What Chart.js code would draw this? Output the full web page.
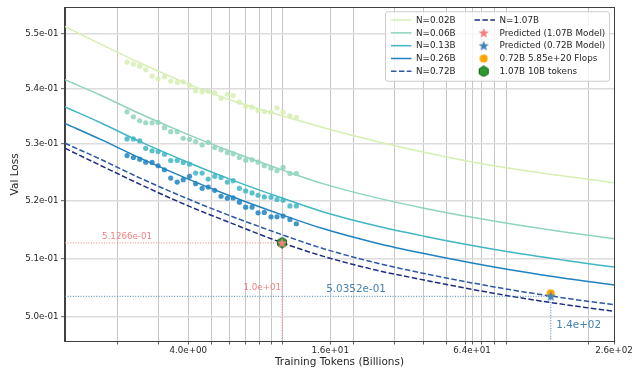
<!DOCTYPE html>
<html><head><meta charset="utf-8">
<script src="https://cdn.jsdelivr.net/npm/chart.js@4.4.1/dist/chart.umd.min.js"></script>
<style>html,body{margin:0;padding:0;background:#fff;}canvas{display:block;}</style>
</head><body>
<canvas id="c" width="642" height="371"></canvas>
<script>
// ---------- data ----------
const seriesNames = ['N=0.02B','N=0.06B','N=0.13B','N=0.26B','N=0.72B','N=1.07B'];
const markerNames = ['Predicted (1.07B Model)','Predicted (0.72B Model)','0.72B 5.85e+20 Flops','1.07B 10B tokens'];

const curveTokens = [1.2, 1.7, 2.5, 4, 6, 10, 15, 25, 40, 64, 100, 160, 256];
const fit002 = [0.55142, 0.54813, 0.54466, 0.54081, 0.53796, 0.53507, 0.53293, 0.53051, 0.52854, 0.52683, 0.52549, 0.52427, 0.52316];
const fit006 = [0.54161, 0.53879, 0.53543, 0.53168, 0.52876, 0.52541, 0.52295, 0.52053, 0.51869, 0.51709, 0.51575, 0.51450, 0.51339];
const fit013 = [0.53668, 0.53382, 0.53044, 0.52673, 0.52379, 0.52046, 0.51803, 0.51562, 0.51382, 0.51222, 0.51087, 0.50964, 0.50850];
const fit026 = [0.53370, 0.53083, 0.52749, 0.52378, 0.52086, 0.51752, 0.51509, 0.51265, 0.51082, 0.50920, 0.50782, 0.50656, 0.50546];
const fit072 = [0.53014, 0.52729, 0.52397, 0.52028, 0.51739, 0.51407, 0.51166, 0.50923, 0.50741, 0.50580, 0.50443, 0.50319, 0.50209];
const fit107 = [0.52925, 0.52620, 0.52287, 0.51908, 0.51618, 0.51268, 0.51034, 0.50799, 0.50629, 0.50470, 0.50334, 0.50209, 0.50099];

const obsTokens = [2.2, 2.34, 2.49, 2.64, 2.81, 2.98, 3.17, 3.37, 3.59, 3.81, 4.05, 4.3, 4.58, 4.86, 5.18, 5.51, 5.86, 6.2, 6.59, 7.01, 7.46, 7.91, 8.41, 8.98, 9.52, 10.1, 10.8, 11.5];
const obs002 = [0.54482, 0.54446, 0.54409, 0.54342, 0.54228, 0.54179, 0.54215, 0.54137, 0.54114, 0.54122, 0.54059, 0.53962, 0.53938, 0.53951, 0.53920, 0.53825, 0.53897, 0.53872, 0.53753, 0.53674, 0.53663, 0.53602, 0.53584, 0.53573, 0.53651, 0.53573, 0.53507, 0.53477];
const obs006 = [0.53579, 0.53489, 0.53418, 0.53382, 0.53382, 0.53388, 0.53293, 0.53222, 0.53222, 0.53103, 0.53085, 0.53044, 0.52985, 0.53032, 0.52938, 0.52897, 0.52849, 0.52826, 0.52761, 0.52713, 0.52720, 0.52678, 0.52615, 0.52572, 0.52527, 0.52585, 0.52479, 0.52479];
const obs013 = [0.53092, 0.53092, 0.53056, 0.52925, 0.52879, 0.52867, 0.52819, 0.52708, 0.52708, 0.52673, 0.52643, 0.52485, 0.52485, 0.52379, 0.52427, 0.52409, 0.52327, 0.52351, 0.52217, 0.52170, 0.52135, 0.52095, 0.52065, 0.52060, 0.52020, 0.52008, 0.51908, 0.51908];
const obs026 = [0.52796, 0.52761, 0.52731, 0.52678, 0.52673, 0.52615, 0.52544, 0.52397, 0.52327, 0.52369, 0.52427, 0.52299, 0.52217, 0.52239, 0.52182, 0.52077, 0.52042, 0.52048, 0.51973, 0.51886, 0.51886, 0.51787, 0.51794, 0.51718, 0.51718, 0.51730, 0.51673, 0.51597];

const predX107 = 10,  predY107 = 0.51266;   // predicted 1.07B
const predX072 = 138, predY072 = 0.50352;   // predicted 0.72B
const flopsPoint = [138, 0.50403];          // 0.72B 5.85e+20 Flops
const tokensPoint = [10, 0.51270];          // 1.07B 10B tokens

const xRange = [1.2, 256];
const yRange = [0.496, 0.5549];
const xTickValues = [2,3,4,5,6,7,8,9,10,16,20,30,40,50,60,64,70,80,90,200,256];
const xMajorTicks = [4,16,64,256];
const yTickValues = [0.50,0.51,0.52,0.53,0.54,0.55];

// ---------- style ----------
const FONT = '"DejaVu Sans", sans-serif';
const colors = ['#d6efb2','#8fd4bc','#41b6c4','#1f82bf','#2c57a3','#1c2c80'];
const dashed = [false,false,false,false,true,true];
const redC = '#f08080', blueC = '#4682b4', orangeC = '#ffa500';
const TEXT = '#262626';

function fmtExp(v, d){
  const s = v.toExponential(d).split('e');
  const e = parseInt(s[1],10);
  return s[0] + 'e' + (e<0?'-':'+') + String(Math.abs(e)).padStart(2,'0');
}
function withAlpha(hex,a){
  const n=parseInt(hex.slice(1),16);
  return `rgba(${n>>16&255},${n>>8&255},${n&255},${a})`;
}
function makeStar(color, size){
  const c=document.createElement('canvas'); c.width=c.height=size;
  const g=c.getContext('2d'); const cx=size/2, cy=size/2+0.4, R=size/2-0.5, r=R*0.42;
  g.beginPath();
  for(let i=0;i<10;i++){const a=-Math.PI/2+i*Math.PI/5;const rr=i%2?r:R;g.lineTo(cx+rr*Math.cos(a),cy+rr*Math.sin(a));}
  g.closePath(); g.fillStyle=color; g.fill();
  return c;
}
function makeHex(color, edge, size){
  const c=document.createElement('canvas'); c.width=c.height=size;
  const g=c.getContext('2d'); const cx=size/2, cy=size/2, R=size/2-0.8;
  g.beginPath();
  for(let i=0;i<6;i++){const a=-Math.PI/2+i*Math.PI/3;g.lineTo(cx+R*Math.cos(a),cy+R*Math.sin(a));}
  g.closePath(); g.fillStyle=color; g.fill(); g.strokeStyle=edge; g.lineWidth=1; g.stroke();
  return c;
}
function makeCircle(color, size){
  const c=document.createElement('canvas'); c.width=c.height=size;
  const g=c.getContext('2d'); g.beginPath(); g.arc(size/2,size/2,size/2-0.5,0,Math.PI*2);
  g.fillStyle=color; g.fill(); return c;
}
const starRed = makeStar(redC, 12);
const starBlue = makeStar(blueC, 12);
const hexGreen = makeHex('#2e9a2e', '#0b5d0b', 12);
const dotOrange = makeCircle(orangeC, 9);

// ---------- datasets ----------
const fitSeries = [fit002, fit006, fit013, fit026, fit072, fit107];
const obsSeries = [obs002, obs006, obs013, obs026];
const datasets = [];
fitSeries.forEach((arr,i)=>{
  datasets.push({label:seriesNames[i], data:curveTokens.map((x,j)=>({x, y:arr[j]})),
    showLine:true, borderColor:colors[i], borderWidth:1.5, borderDash:dashed[i]?[5.5,2.4]:[],
    pointRadius:0, cubicInterpolationMode:'monotone', fill:false, order:10});
});
obsSeries.forEach((arr,i)=>{
  datasets.push({label:'obs '+seriesNames[i], data:obsTokens.map((x,j)=>({x, y:arr[j]})),
    showLine:false, pointRadius:2.6, pointBackgroundColor:withAlpha(colors[i],0.85), pointBorderWidth:0, order:8});
});
datasets.push({label:'guide107', data:[{x:xRange[0],y:predY107},{x:predX107,y:predY107},{x:predX107,y:yRange[0]}],
  showLine:true, borderColor:redC, borderWidth:1, borderDash:[1,1.6], pointRadius:0, tension:0, order:6});
datasets.push({label:'guide072', data:[{x:xRange[0],y:predY072},{x:predX072,y:predY072},{x:predX072,y:yRange[0]}],
  showLine:true, borderColor:blueC, borderWidth:1, borderDash:[1,1.6], pointRadius:0, tension:0, order:6});
datasets.push({label:markerNames[3], data:[{x:tokensPoint[0],y:tokensPoint[1]}], pointStyle:hexGreen, pointRadius:6, order:3});
datasets.push({label:markerNames[0], data:[{x:predX107,y:predY107}], pointStyle:starRed, pointRadius:6, order:2});
datasets.push({label:markerNames[2], data:[{x:flopsPoint[0],y:flopsPoint[1]}], pointStyle:dotOrange, pointRadius:5, order:3});
datasets.push({label:markerNames[1], data:[{x:predX072,y:predY072}], pointStyle:starBlue, pointRadius:6, order:2});

// ---------- plugins ----------
const framePlugin = {
  id:'frame',
  afterDatasetsDraw(chart){
    const {ctx, chartArea:a} = chart;
    ctx.save(); ctx.strokeStyle='#404040'; ctx.lineWidth=1;
    ctx.strokeRect(Math.round(a.left)-0.5, Math.round(a.top)-0.5, Math.round(a.right-a.left)+1, Math.round(a.bottom-a.top)+1);
    ctx.restore();
  }
};
const annotations = [
  {text:fmtExp(predY107,4), x:2.2,      y:predY107, dx:0,   dy:-6.5, color:redC,  size:8.7,  align:'center'},
  {text:fmtExp(predX107,1), x:predX107, y:0.5050,   dx:-1,  dy:0,    color:redC,  size:8.7,  align:'right'},
  {text:fmtExp(predY072,4), x:20.6,     y:predY072, dx:0,   dy:-7.5, color:blueC, size:10.4, align:'center'},
  {text:fmtExp(predX072,1), x:predX072, y:0.4987,   dx:5.5, dy:0,    color:blueC, size:10.4, align:'left'}
];
const annotPlugin = {
  id:'annot',
  afterDatasetsDraw(chart){
    const {ctx, scales:{x, y}} = chart;
    ctx.save(); ctx.textBaseline='middle';
    annotations.forEach(a=>{
      ctx.font = `${a.size}px ${FONT}`; ctx.fillStyle=a.color; ctx.textAlign=a.align;
      ctx.fillText(a.text, x.getPixelForValue(a.x)+a.dx, y.getPixelForValue(a.y)+a.dy);
    });
    ctx.restore();
  }
};
const legendPlugin = {
  id:'customLegend',
  afterDraw(chart){
    const {ctx, chartArea:a} = chart;
    const W=224, H=69.5;
    const R = a.right-4.5, T = a.top+4, L = R-W;
    ctx.save();
    const rr=2.5;
    ctx.beginPath();
    ctx.moveTo(L+rr,T); ctx.lineTo(R-rr,T); ctx.quadraticCurveTo(R,T,R,T+rr);
    ctx.lineTo(R,T+H-rr); ctx.quadraticCurveTo(R,T+H,R-rr,T+H);
    ctx.lineTo(L+rr,T+H); ctx.quadraticCurveTo(L,T+H,L,T+H-rr);
    ctx.lineTo(L,T+rr); ctx.quadraticCurveTo(L,T,L+rr,T); ctx.closePath();
    ctx.fillStyle='rgba(255,255,255,0.8)'; ctx.fill();
    ctx.strokeStyle='#cccccc'; ctx.lineWidth=1; ctx.stroke();
    const items = [];
    for(let i=0;i<6;i++) items.push({kind:'line', color:colors[i], dash:dashed[i], label:seriesNames[i]});
    items.push({kind:'img', img:starRed, label:markerNames[0]});
    items.push({kind:'img', img:starBlue, label:markerNames[1]});
    items.push({kind:'img', img:dotOrange, label:markerNames[2]});
    items.push({kind:'img', img:hexGreen, label:markerNames[3]});
    ctx.font = `8.8px ${FONT}`; ctx.textBaseline='middle'; ctx.textAlign='left';
    items.forEach((it,k)=>{
      const col = k<5?0:1, row = k<5?k:k-5;
      const hx0 = L + (col===0?5.5:89), hx1 = hx0+20.5, tx = L + (col===0?30.5:114);
      const cy = T + 8.3 + row*12.83;
      if(it.kind==='line'){
        ctx.strokeStyle=it.color; ctx.lineWidth=1.5; ctx.setLineDash(it.dash?[5.5,2.4]:[]);
        ctx.beginPath(); ctx.moveTo(hx0,cy); ctx.lineTo(hx1,cy); ctx.stroke(); ctx.setLineDash([]);
      } else {
        const cx=(hx0+hx1)/2-1;
        ctx.drawImage(it.img, cx-it.img.width/2, cy-it.img.height/2);
      }
      ctx.fillStyle=TEXT; ctx.fillText(it.label, tx, cy+0.5);
    });
    ctx.restore();
  }
};

// ---------- chart ----------
Chart.defaults.font.family = FONT;
new Chart(document.getElementById('c'), {
  type:'scatter',
  data:{datasets},
  options:{
    responsive:false, animation:false, devicePixelRatio:1,
    layout:{padding:{left:0,right:28,top:5,bottom:0}},
    plugins:{legend:{display:false}, tooltip:{enabled:false}},
    scales:{
      x:{
        type:'logarithmic', min:xRange[0], max:xRange[1], position:'bottom',
        afterBuildTicks:s=>{ s.ticks = xTickValues.map(v=>({value:v})); },
        afterFit:s=>{ s.height = 30; },
        ticks:{autoSkip:false, maxRotation:0, minRotation:0, padding:1, color:TEXT, font:{size:8.7},
          callback:v=> xMajorTicks.includes(v) ? fmtExp(v,1) : ''},
        grid:{color:'#c6c6c6', lineWidth:1, tickLength:3.5, tickColor:'#333', tickWidth:0.8},
        border:{display:true, color:'#404040', width:1},
        title:{display:true, text:'Training Tokens (Billions)', color:TEXT, font:{size:10.5}, padding:{top:0,bottom:2}}
      },
      y:{
        type:'logarithmic', min:yRange[0], max:yRange[1],
        afterBuildTicks:s=>{ s.ticks = yTickValues.map(v=>({value:v})); },
        afterFit:s=>{ s.width = 65; },
        ticks:{padding:2.5, color:TEXT, font:{size:8.7}, callback:v=>fmtExp(v,1)},
        grid:{color:'#dcdcdc', lineWidth:1.4, tickLength:4, tickColor:'#333', tickWidth:0.8},
        border:{display:true, color:'#404040', width:1},
        title:{display:true, text:'Val Loss', color:TEXT, font:{size:10.5}, padding:{top:9,bottom:0}}
      }
    }
  },
  plugins:[framePlugin, annotPlugin, legendPlugin]
});
</script></body></html>
